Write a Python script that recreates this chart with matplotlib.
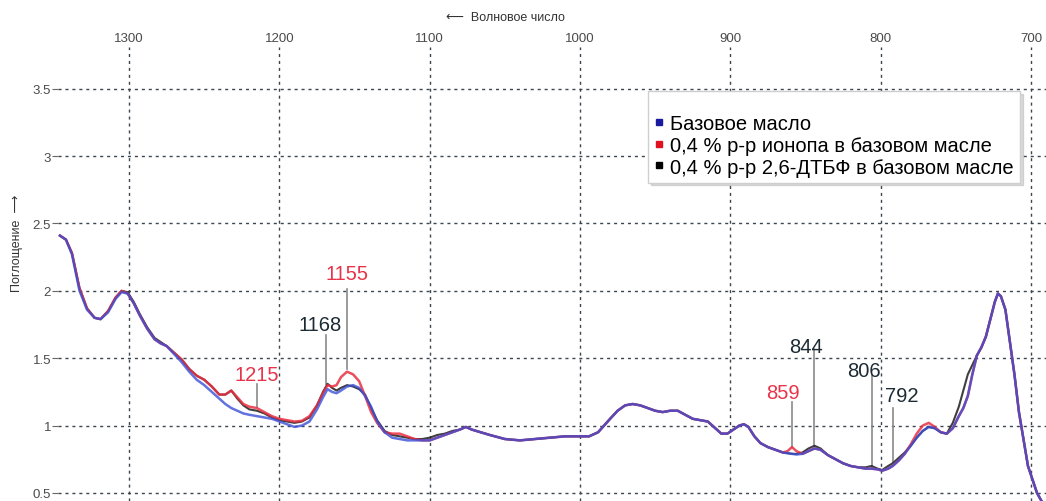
"""IR spectra of base oil with antioxidant additives."""

import matplotlib

matplotlib.use("Agg")

import matplotlib.pyplot as plt
from matplotlib.lines import Line2D

plt.rcParams["font.family"] = ["Liberation Sans", "DejaVu Sans"]

# wavenumbers, cm-1 (descending, as on the chart)
wavenumber = [
    1346, 1342, 1338, 1333, 1328, 1323, 1319, 1314, 1309, 1305, 1301, 1297, 1293, 1288,
    1283, 1279, 1275, 1270, 1265, 1260, 1255, 1250, 1245, 1240, 1236, 1232, 1228, 1224,
    1220, 1215, 1210, 1205, 1200, 1195, 1190, 1185, 1180, 1175, 1171, 1168, 1165, 1162,
    1159, 1155, 1151, 1147, 1143, 1139, 1135, 1130, 1125, 1120, 1115, 1110, 1105, 1100,
    1095, 1090, 1085, 1080, 1076, 1072, 1066, 1060, 1050, 1040, 1030, 1020, 1010, 1000,
    994, 988, 984, 980, 975, 970, 965, 960, 955, 950, 945, 940, 935, 930, 925, 920, 915,
    910, 906, 902, 898, 894, 891, 888, 884, 880, 875, 870, 865, 862, 859, 856, 852, 848,
    844, 840, 835, 830, 825, 820, 815, 810, 806, 802, 799, 795, 792, 788, 784, 780, 776,
    772, 768, 764, 760, 756, 752, 748, 745, 742, 739, 736, 733, 730, 727, 724, 722, 720,
    717, 714, 711, 708, 705, 702, 699, 696, 693, 690,
]

base_oil = [
    2.41, 2.38, 2.27, 2.00, 1.86, 1.80, 1.79, 1.84, 1.94, 1.99, 1.98, 1.91, 1.82, 1.72,
    1.64, 1.61, 1.59, 1.53, 1.47, 1.40, 1.34, 1.30, 1.25, 1.20, 1.16, 1.13, 1.11, 1.09,
    1.08, 1.07, 1.06, 1.05, 1.03, 1.01, 0.99, 1.00, 1.03, 1.12, 1.21, 1.27, 1.25, 1.24,
    1.26, 1.29, 1.30, 1.28, 1.22, 1.14, 1.03, 0.95, 0.91, 0.90, 0.89, 0.89, 0.89, 0.89,
    0.91, 0.93, 0.95, 0.97, 0.99, 0.97, 0.95, 0.93, 0.90, 0.89, 0.90, 0.91, 0.92, 0.92,
    0.92, 0.95, 1.00, 1.05, 1.11, 1.15, 1.16, 1.15, 1.13, 1.11, 1.10, 1.11, 1.11, 1.08,
    1.05, 1.04, 1.03, 0.98, 0.94, 0.94, 0.97, 1.00, 1.01, 0.99, 0.92, 0.87, 0.84, 0.82,
    0.80, 0.795, 0.79, 0.785, 0.79, 0.81, 0.83, 0.82, 0.78, 0.75, 0.72, 0.70, 0.69, 0.68,
    0.68, 0.675, 0.665, 0.68, 0.70, 0.74, 0.79, 0.85, 0.91, 0.96, 0.99, 0.98, 0.95, 0.94,
    0.98, 1.07, 1.13, 1.22, 1.38, 1.52, 1.58, 1.66, 1.79, 1.92, 1.98, 1.96, 1.86, 1.62,
    1.38, 1.10, 0.90, 0.70, 0.60, 0.50, 0.44, 0.40,
]

ionol = [
    2.41, 2.38, 2.28, 2.02, 1.87, 1.80, 1.79, 1.85, 1.95, 2.00, 1.98, 1.91, 1.82, 1.72,
    1.64, 1.61, 1.59, 1.54, 1.49, 1.42, 1.37, 1.34, 1.29, 1.23, 1.23, 1.26, 1.21, 1.16,
    1.14, 1.13, 1.10, 1.07, 1.05, 1.04, 1.03, 1.035, 1.07, 1.15, 1.24, 1.30, 1.29, 1.30,
    1.36, 1.40, 1.38, 1.33, 1.22, 1.10, 1.02, 0.95, 0.94, 0.94, 0.92, 0.90, 0.89, 0.89,
    0.91, 0.93, 0.95, 0.97, 0.99, 0.97, 0.95, 0.93, 0.90, 0.89, 0.90, 0.91, 0.92, 0.92,
    0.92, 0.95, 1.00, 1.05, 1.11, 1.15, 1.16, 1.15, 1.13, 1.11, 1.10, 1.11, 1.11, 1.08,
    1.05, 1.04, 1.03, 0.98, 0.94, 0.94, 0.97, 1.00, 1.01, 0.99, 0.92, 0.87, 0.84, 0.82,
    0.80, 0.81, 0.84, 0.81, 0.79, 0.81, 0.83, 0.82, 0.78, 0.75, 0.72, 0.70, 0.69, 0.68,
    0.68, 0.675, 0.665, 0.68, 0.70, 0.74, 0.79, 0.86, 0.94, 1.00, 1.02, 0.99, 0.95, 0.94,
    0.98, 1.07, 1.13, 1.22, 1.38, 1.52, 1.58, 1.66, 1.79, 1.92, 1.98, 1.96, 1.86, 1.62,
    1.38, 1.10, 0.90, 0.70, 0.60, 0.50, 0.44, 0.40,
]

dtbf = [
    2.41, 2.38, 2.28, 2.02, 1.87, 1.80, 1.79, 1.85, 1.95, 2.00, 1.99, 1.92, 1.83, 1.73,
    1.65, 1.62, 1.59, 1.54, 1.49, 1.42, 1.37, 1.34, 1.29, 1.23, 1.23, 1.26, 1.20, 1.15,
    1.12, 1.11, 1.09, 1.06, 1.04, 1.03, 1.02, 1.03, 1.06, 1.15, 1.25, 1.31, 1.28, 1.26,
    1.28, 1.30, 1.29, 1.27, 1.23, 1.13, 1.04, 0.96, 0.93, 0.92, 0.91, 0.90, 0.90, 0.91,
    0.93, 0.94, 0.96, 0.97, 0.99, 0.97, 0.95, 0.93, 0.90, 0.89, 0.90, 0.91, 0.92, 0.92,
    0.92, 0.95, 1.00, 1.05, 1.11, 1.15, 1.16, 1.15, 1.13, 1.11, 1.10, 1.11, 1.11, 1.08,
    1.05, 1.04, 1.03, 0.98, 0.94, 0.94, 0.97, 1.00, 1.01, 0.99, 0.92, 0.87, 0.84, 0.82,
    0.80, 0.795, 0.79, 0.79, 0.80, 0.83, 0.85, 0.83, 0.78, 0.75, 0.72, 0.70, 0.69, 0.69,
    0.70, 0.68, 0.67, 0.70, 0.72, 0.76, 0.80, 0.85, 0.91, 0.96, 0.99, 0.98, 0.95, 0.94,
    1.02, 1.14, 1.26, 1.38, 1.45, 1.52, 1.58, 1.66, 1.79, 1.92, 1.98, 1.96, 1.86, 1.62,
    1.38, 1.10, 0.90, 0.70, 0.60, 0.50, 0.44, 0.40,
]

series_labels = [
    "Базовое масло",
    "0,4 % р-р ионопа в базовом масле",
    "0,4 % р-р 2,6-ДТБФ в базовом масле",
]

peak_labels = ["1215", "1155", "1168", "859", "844", "806", "792"]

y_ticks = [0.5, 1, 1.5, 2, 2.5, 3, 3.5]
y_tick_labels = ["0.5", "1", "1.5", "2", "2.5", "3", "3.5"]
x_ticks = [1300, 1200, 1100, 1000, 900, 800, 700]

BLUE = "#3b4fd6"
RED = "#ea2f42"
BLACK = "#2a2a2a"
PEAK_RED = "#e8334a"
PEAK_DARK = "#1c2b33"
GRID = "#3c4650"

# annotation placement: (text x, text y, line x, line top, line bottom, colour)
peak_layout = {
    "1215": (1214.8, 1.376, 1214.8, 1.31, 1.14, PEAK_RED),
    "1155": (1154.9, 2.126, 1154.9, 2.015, 1.42, PEAK_RED),
    "1168": (1172.8, 1.75, 1168.8, 1.67, 1.31, PEAK_DARK),
    "859": (865.3, 1.242, 859.3, 1.175, 0.84, PEAK_RED),
    "844": (850.0, 1.584, 844.6, 1.57, 0.85, PEAK_DARK),
    "806": (811.3, 1.406, 806.0, 1.376, 0.69, PEAK_DARK),
    "792": (786.0, 1.22, 792.0, 1.13, 0.73, PEAK_DARK),
}

fig = plt.figure(figsize=(10.46, 5.02), dpi=100)
ax = fig.add_axes([58 / 1046, 0.0, 1 - 58 / 1046, 1 - 48 / 502])

ax.plot(wavenumber, dtbf, color=BLACK, lw=1.5, alpha=0.9, zorder=3)
ax.plot(wavenumber, ionol, color=RED, lw=1.8, alpha=0.85, zorder=4)
ax.plot(wavenumber, base_oil, color=BLUE, lw=1.8, alpha=0.8, zorder=5)

for label in peak_labels:
    tx, ty, lx, top, bottom, color = peak_layout[label]
    ax.plot([lx, lx], [bottom, top], color="#8a8a8a", lw=1.2, zorder=2)
    ax.text(tx, ty, label, color=color, fontsize=14.5, ha="center", va="center", zorder=6)

ax.set_xlim(1347.3, 690.0)
ax.set_ylim(0.44, 3.81)
ax.xaxis.tick_top()
ax.set_xticks(x_ticks)
ax.set_xticklabels([str(t) for t in x_ticks])
ax.set_yticks(y_ticks)
ax.set_yticklabels(y_tick_labels)
ax.tick_params(axis="x", length=0, pad=2, labelsize=9.5, labelcolor="#4a4a4a")
ax.tick_params(axis="y", length=4, width=0.8, color="#666666", pad=1, labelsize=9.5,
               labelcolor="#4a4a4a")
for spine in ax.spines.values():
    spine.set_visible(False)
ax.grid(True, color=GRID, lw=1.0, linestyle=(0, (2.2, 2.8)))
ax.set_axisbelow(True)

fig.text(505 / 1046, 1 - 18 / 502, "⟵  Волновое число", ha="center", va="center",
         fontsize=9, color="#333333")
fig.text(17 / 1046, 1 - 243 / 502, "Поглощение  ⟶", rotation=90, ha="center",
         va="center", fontsize=9, color="#333333")

handles = [
    Line2D([], [], marker="s", color=c, markersize=5, linestyle="none")
    for c in ["#1a1aa0", "#e01020", "#000000"]
]
leg = ax.legend(
    handles,
    series_labels,
    loc="upper left",
    bbox_to_anchor=(648 / 1046, 1 - 92 / 502),
    bbox_transform=fig.transFigure,
    fontsize=14.5,
    title=" ",
    title_fontsize=10,
    handlelength=0.5,
    handletextpad=0.3,
    labelspacing=0.14,
    borderpad=0.3,
    borderaxespad=0,
    fancybox=False,
    framealpha=1,
    edgecolor="#cfcfcf",
    shadow={"color": "0.6", "alpha": 0.35},
)
leg.set_zorder(10)

fig.savefig("out.png", dpi=100, facecolor="white")
